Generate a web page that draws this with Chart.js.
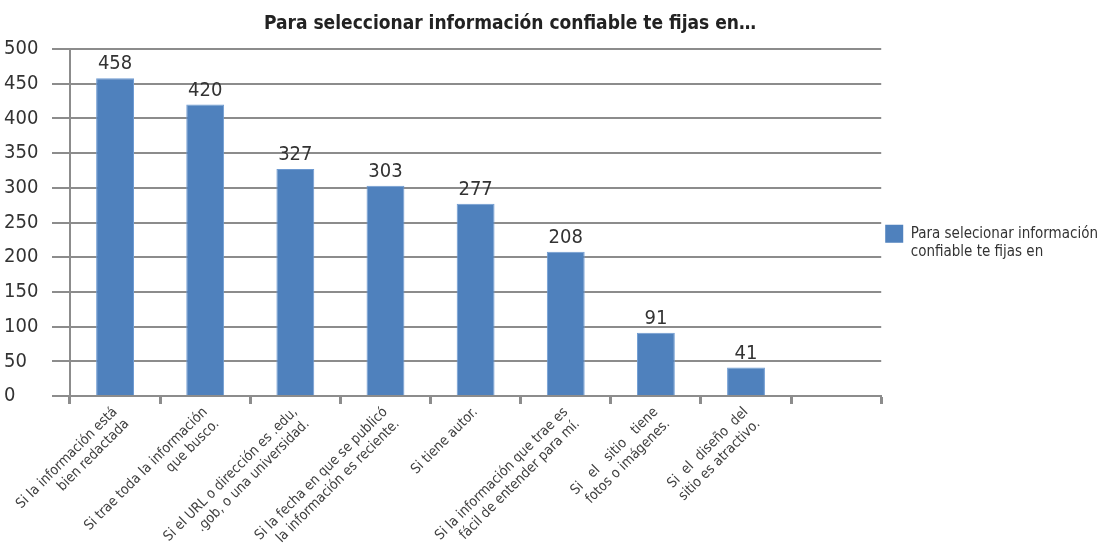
<!DOCTYPE html>
<html>
<head>
<meta charset="utf-8">
<script src="https://cdn.jsdelivr.net/npm/chart.js@4.4.1/dist/chart.umd.min.js"></script>
<style>
  html, body { margin: 0; padding: 0; background: #fff; }
  #wrap { width: 1108px; height: 559px; }
</style>
</head>
<body>
<div id="wrap"><canvas id="chart" width="1108" height="559"></canvas></div>
<script>
/* DATA */
const chartTitle = "Para seleccionar información confiable te fijas en…";
const seriesName = ["Para selecionar información", "confiable te fijas en"];
const categories = [
    ["Si la información está", "bien redactada"],
    ["Si trae toda la información", "que busco."],
    ["Si el URL o dirección es .edu,", ".gob, o una universidad."],
    ["Si la fecha en que se publicó", "la información es reciente."],
    ["Si tiene autor."],
    ["Si la información que trae es", "fácil de entender para mí."],
    ["Si   el   sitio   tiene", "fotos o imágenes."],
    ["Si  el  diseño  del", "sitio es atractivo."],
    ""
];
const values = [458, 420, 327, 303, 277, 208, 91, 41, null];
const yTicks = [0, 50, 100, 150, 200, 250, 300, 350, 400, 450, 500];

/* STYLE */
const FONT = "'Liberation Sans Narrow', 'DejaVu Sans Condensed', Arial, sans-serif";
const BAR = "#4f81bd";
const GRID = "#8c8c8c";
const TEXT = "#333333";

/* PLUGINS */
const titlePlugin = {
    id: "titleText",
    afterDraw(chart) {
        const ctx = chart.ctx;
        ctx.save();
        ctx.font = "bold 19px " + FONT;
        ctx.fillStyle = "#222";
        ctx.textAlign = "center";
        ctx.textBaseline = "middle";
        ctx.fillText(chartTitle, 510, 24);
        ctx.restore();
    }
};

const valueLabels = {
    id: "valueLabels",
    afterDatasetsDraw(chart) {
        const ctx = chart.ctx;
        const meta = chart.getDatasetMeta(0);
        ctx.save();
        ctx.font = "20px " + FONT;
        ctx.fillStyle = TEXT;
        ctx.textAlign = "center";
        ctx.textBaseline = "bottom";
        meta.data.forEach((bar, i) => {
            if (values[i] == null) return;
            ctx.fillText(String(values[i]), bar.x, bar.y - 4);
        });
        ctx.restore();
    }
};

/* CHART */
new Chart(document.getElementById("chart"), {
    type: "bar",
    data: {
        labels: categories,
        datasets: [{
            label: seriesName.join(" "),
            data: values,
            backgroundColor: BAR,
            borderColor: "#6f9bd2",
            borderWidth: 1,
            categoryPercentage: 0.84,
            barPercentage: 0.5
        }]
    },
    options: {
        responsive: false,
        animation: false,
        layout: { padding: { top: 49, left: 4, right: 0, bottom: 0 } },
        plugins: {
            title: { display: false },
            tooltip: { enabled: false },
            legend: {
                position: "right",
                align: "center",
                fullSize: false,
                // empty legend title only used to push the entry a bit lower
                title: { display: true, text: "", padding: { top: 26, bottom: 0 } },
                labels: {
                    font: { family: FONT, size: 15 },
                    color: TEXT,
                    boxWidth: 18,
                    boxHeight: 18,
                    padding: 4,
                    generateLabels: chart => [{
                        text: seriesName,
                        fillStyle: BAR,
                        strokeStyle: BAR,
                        fontColor: TEXT,
                        lineWidth: 0,
                        datasetIndex: 0
                    }]
                }
            }
        },
        scales: {
            x: {
                grid: {
                    offset: true,
                    drawOnChartArea: false,
                    drawTicks: true,
                    tickLength: 8,
                    tickWidth: 3,
                    tickColor: GRID
                },
                border: { color: GRID, width: 2 },
                ticks: {
                    autoSkip: false,
                    maxRotation: 45,
                    minRotation: 45,
                    font: { family: FONT, size: 14 },
                    color: "#404040",
                    padding: 0
                },
                afterFit: s => { s.height = 163; }
            },
            y: {
                min: 0,
                max: 500,
                afterBuildTicks: s => { s.ticks = yTicks.map(v => ({ value: v })); },
                grid: {
                    color: GRID,
                    lineWidth: 2,
                    tickLength: 18
                },
                border: { color: GRID, width: 2 },
                ticks: {
                    font: { family: FONT, size: 20 },
                    color: TEXT,
                    crossAlign: "far",
                    padding: 2
                },
                afterFit: s => { s.width = 66; }
            }
        }
    },
    plugins: [titlePlugin, valueLabels]
});
</script>
</body>
</html>
